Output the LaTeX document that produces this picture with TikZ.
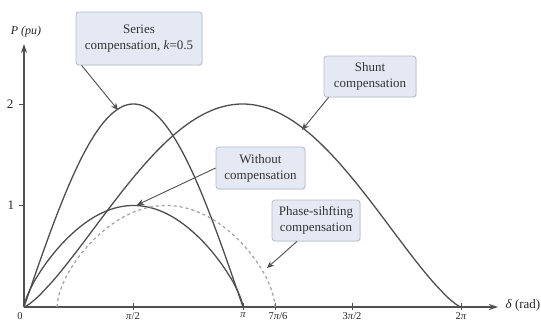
\documentclass[tikz,border=0pt]{standalone}
\usepackage{fontspec}
\setmainfont{Liberation Serif}
\usetikzlibrary{arrows.meta,shadows}
\definecolor{curvecol}{HTML}{4E4E4E}
\definecolor{axiscol}{HTML}{505050}
\definecolor{dashcol}{HTML}{A0A0A0}
\definecolor{boxfill}{HTML}{E4E9F4}
\definecolor{boxedge}{HTML}{B4BCCA}
\tikzset{
  lbl/.style={draw=boxedge, line width=0.8pt, fill=boxfill, rounded corners=3pt, align=center,
    font=\fontsize{13}{16}\selectfont, text=black!80, inner sep=1pt,
    drop shadow={opacity=0.12, shadow xshift=1pt, shadow yshift=-1pt}},
  curve/.style={draw=curvecol, line width=1.3pt},
  dashcurve/.style={draw=dashcol, line width=1.2pt, dash pattern=on 3pt off 3pt},
  callout/.style={draw=curvecol, line width=0.9pt, -{Stealth[length=7pt,width=6pt]}},
  axisline/.style={draw=axiscol, line width=1.1pt, -{Stealth[length=9pt,width=6pt]}},
  tickline/.style={draw=axiscol, line width=0.9pt},
  ticklbl/.style={font=\fontsize{13}{15}\selectfont, text=black!85},
  xlbl/.style={font=\fontsize{10.5}{12}\selectfont, text=black!85, anchor=north, inner sep=0.5pt},
}
\begin{document}
\begin{tikzpicture}[x=1pt,y=-1pt]
\useasboundingbox (0,0) rectangle (541,326);
% axes
\coordinate (O) at (24,307);
\coordinate (ytop) at (24,44);
\coordinate (xend) at (498,307);
\draw[axisline] (O) -- (ytop);
\draw[axisline] (O) -- (xend);
\node[font=\fontsize{12}{14}\selectfont\itshape, text=black!85] (plab) at (26,32) {P (pu)};
\node[font=\fontsize{13}{15}\selectfont, text=black!85, anchor=west] (dlab) at (502,305) {\textit{δ} (rad)};
% y ticks
\draw[tickline] (19,205.5) -- (24,205.5);
\draw[tickline] (19,104) -- (24,104);
\node[ticklbl] (y1) at (11,205.5) {1};
\node[ticklbl] (y2) at (10,104) {2};
% x ticks
\foreach \xx in {133,243,275,352,461} \draw[tickline] (\xx,303) -- (\xx,310);
\node[xlbl] (x0) at (20,312) {0};
\node[xlbl] (x1) at (133,312) {\textit{π}/2};
\node[xlbl] (x2) at (243,312) {\textit{π}};
\node[xlbl] (x3) at (278,312) {7\textit{π}/6};
\node[xlbl] (x4) at (352,312) {3\textit{π}/2};
\node[xlbl] (x5) at (461,312) {2\textit{π}};
% curves
\draw[curve] (24,307) -- plot[domain=24.5:242.5, samples=120, smooth] (\x, {307-203*sin((\x-24)/219*180)}) -- (243,307);
\draw[curve] (24,307) -- plot[domain=24.5:242.5, samples=120, smooth] (\x, {307-101.5*(sin((\x-24)/219*180))^0.72}) -- (243,307);
\draw[curve] (24,307) -- plot[domain=24.5:460.5, samples=160, smooth] (\x, {307-203*(sin((\x-24)/437*180))^1.3}) -- (461,307);
\draw[dashcurve] (57,307) -- plot[domain=57.5:274.5, samples=120, smooth] (\x, {307-101.5*(sin((\x-57)/218*180))^0.6}) -- (275,307);
% label boxes
\node[lbl, minimum width=126pt, minimum height=53pt] (sbox) at (139,38.5) {Series\\compensation, \textit{k}=0.5};
\node[lbl, minimum width=92pt, minimum height=41pt] (shbox) at (370,76.5) {Shunt\\compensation};
\node[lbl, minimum width=89pt, minimum height=42pt] (wobox) at (260.5,168) {Without\\compensation};
\node[lbl, minimum width=88pt, minimum height=41pt] (phbox) at (316,220.5) {Phase-sihfting\\compensation};
% callout targets
\coordinate (stip) at (118,110);
\coordinate (shtip) at (302,130);
\coordinate (wotip) at (137,205);
\coordinate (phtip) at (267,268);
\draw[callout] ([xshift=6pt]sbox.south west) -- (stip);
\draw[callout] ([xshift=5pt]shbox.south west) -- (shtip);
\draw[callout] (wobox.west) -- (wotip);
\draw[callout] ([xshift=-19pt]phbox.south) -- (phtip);
\end{tikzpicture}
\end{document}
